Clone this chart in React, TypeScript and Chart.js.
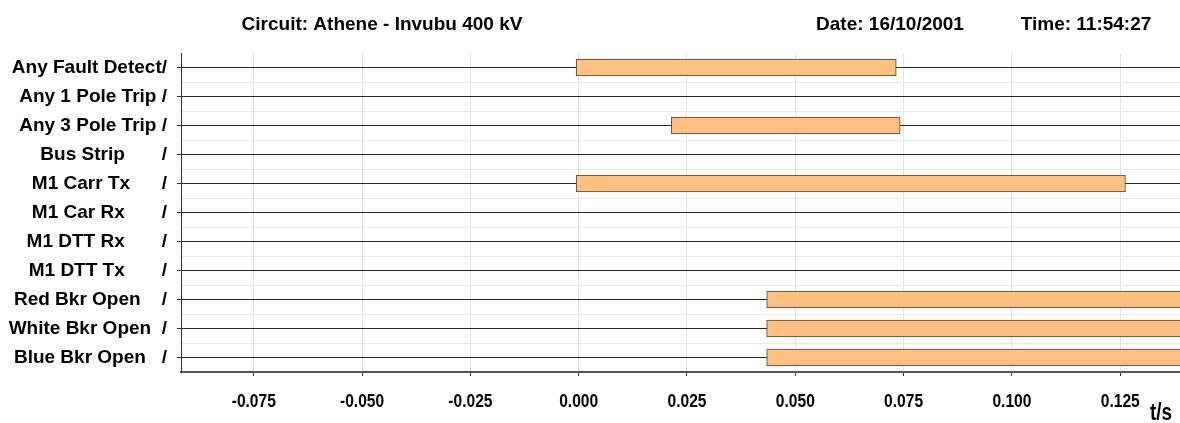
import React, { useEffect, useRef } from "react";
import { Chart, registerables } from "chart.js";

Chart.register(...registerables);

// Digital channels of the fault record, padded to a fixed width before the "/"
const signals = [
  "Any Fault Detect/",
  "Any 1 Pole Trip /",
  "Any 3 Pole Trip /",
  "Bus Strip       /",
  "M1 Carr Tx      /",
  "M1 Car Rx       /",
  "M1 DTT Rx       /",
  "M1 DTT Tx       /",
  "Red Bkr Open    /",
  "White Bkr Open  /",
  "Blue Bkr Open   /",
];

// Time (s) at which each channel picks up and drops off; null = never operated
const onTimes: (number | null)[] = [-0.0006, null, 0.0214, null, -0.0006, null, null, null, 0.0434, 0.0434, 0.0434];
const offTimes: (number | null)[] = [0.0733, null, 0.0742, null, 0.1262, null, null, null, 0.15, 0.15, 0.15];

const timeTicks = [-0.075, -0.05, -0.025, 0, 0.025, 0.05, 0.075, 0.1, 0.125];
const timeMin = -0.0918;
const timeMax = 0.1388;

const circuit = "Circuit: Athene - Invubu 400 kV";
const recordDate = "Date: 16/10/2001";
const recordTime = "Time: 11:54:27";
const timeUnit = "t/s";

const BOLD = '"Liberation Sans", Arial, sans-serif';
// horizontal squeeze used to imitate a narrow face for the time axis text
const NARROW_SCALE = 0.82;

function condensedText(ctx: CanvasRenderingContext2D, text: string, x: number, y: number) {
  ctx.save();
  ctx.translate(x, y);
  ctx.scale(NARROW_SCALE, 1);
  ctx.fillText(text, 0, 0);
  ctx.restore();
}

const headerPlugin = {
  id: "recordHeader",
  afterDraw(chart: Chart) {
    const { ctx } = chart;
    const xs: any = chart.scales.x;
    ctx.save();
    ctx.fillStyle = "#000";
    ctx.textBaseline = "middle";
    ctx.textAlign = "center";
    ctx.font = `bold 19px ${BOLD}`;
    ctx.fillText(circuit, 382, 25);
    ctx.fillText(recordDate, 890, 25);
    ctx.fillText(recordTime, 1086, 25);

    // time axis labels, placed by the x scale
    const labelY = chart.chartArea.bottom + 30;
    timeTicks.forEach((v) => {
      condensedText(ctx, v.toFixed(3), xs.getPixelForValue(v), labelY);
    });

    ctx.font = `bold 23px ${BOLD}`;
    condensedText(ctx, timeUnit, 1161, chart.chartArea.bottom + 42);
    ctx.restore();
  },
};

export default function App() {
  const ref = useRef<HTMLCanvasElement>(null);

  useEffect(() => {
    const chart = new Chart(ref.current as HTMLCanvasElement, {
      type: "bar",
      data: {
        labels: signals,
        datasets: [
          {
            data: signals.map((_, i) =>
              onTimes[i] === null ? null : [onTimes[i] as number, offTimes[i] as number]
            ) as any,
            backgroundColor: "#FFC080",
            borderColor: "#4d3f30",
            borderWidth: 1,
            borderSkipped: false,
            barThickness: 17,
          },
        ],
      },
      options: {
        indexAxis: "y",
        responsive: false,
        animation: false,
        layout: { padding: { top: 53, left: 0, right: 0, bottom: 0 } },
        plugins: {
          legend: { display: false },
          tooltip: { enabled: false },
        },
        scales: {
          x: {
            type: "linear",
            min: timeMin,
            max: timeMax,
            afterBuildTicks: (axis: any) => {
              axis.ticks = timeTicks.map((value) => ({ value }));
            },
            grid: { color: "#e4e4e4", tickColor: "#444", tickLength: 4 },
            border: { color: "#555", width: 2 },
            ticks: { display: false },
            afterFit: (s: any) => {
              s.height = 51;
            },
          },
          y: {
            type: "category",
            offset: true,
            grid: {
              offset: false,
              color: "#262626",
              lineWidth: 1,
              tickColor: "#333",
              tickLength: 4,
            },
            border: { color: "#333", width: 1 },
            ticks: {
              color: "#000",
              font: { family: BOLD, size: 19, weight: "bold" },
              padding: 10,
              autoSkip: false,
            },
            afterFit: (s: any) => {
              s.width = 181;
            },
          },
          yBand: {
            type: "category",
            labels: signals,
            position: "left",
            offset: true,
            grid: {
              offset: true,
              drawTicks: false,
              color: (c: any) => (c.index === 0 ? "rgba(0,0,0,0)" : "#e8e8e8"),
            },
            ticks: { display: false },
            border: { display: false },
            afterFit: (s: any) => {
              s.width = 0;
            },
          },
        },
      } as any,
      plugins: [headerPlugin],
    });
    return () => chart.destroy();
  }, []);

  return (
    <div style={{ position: "absolute", left: 0, top: 0, width: 1180, height: 423, background: "#fff" }}>
      <canvas ref={ref} width={1180} height={423} style={{ display: "block" }} />
    </div>
  );
}
